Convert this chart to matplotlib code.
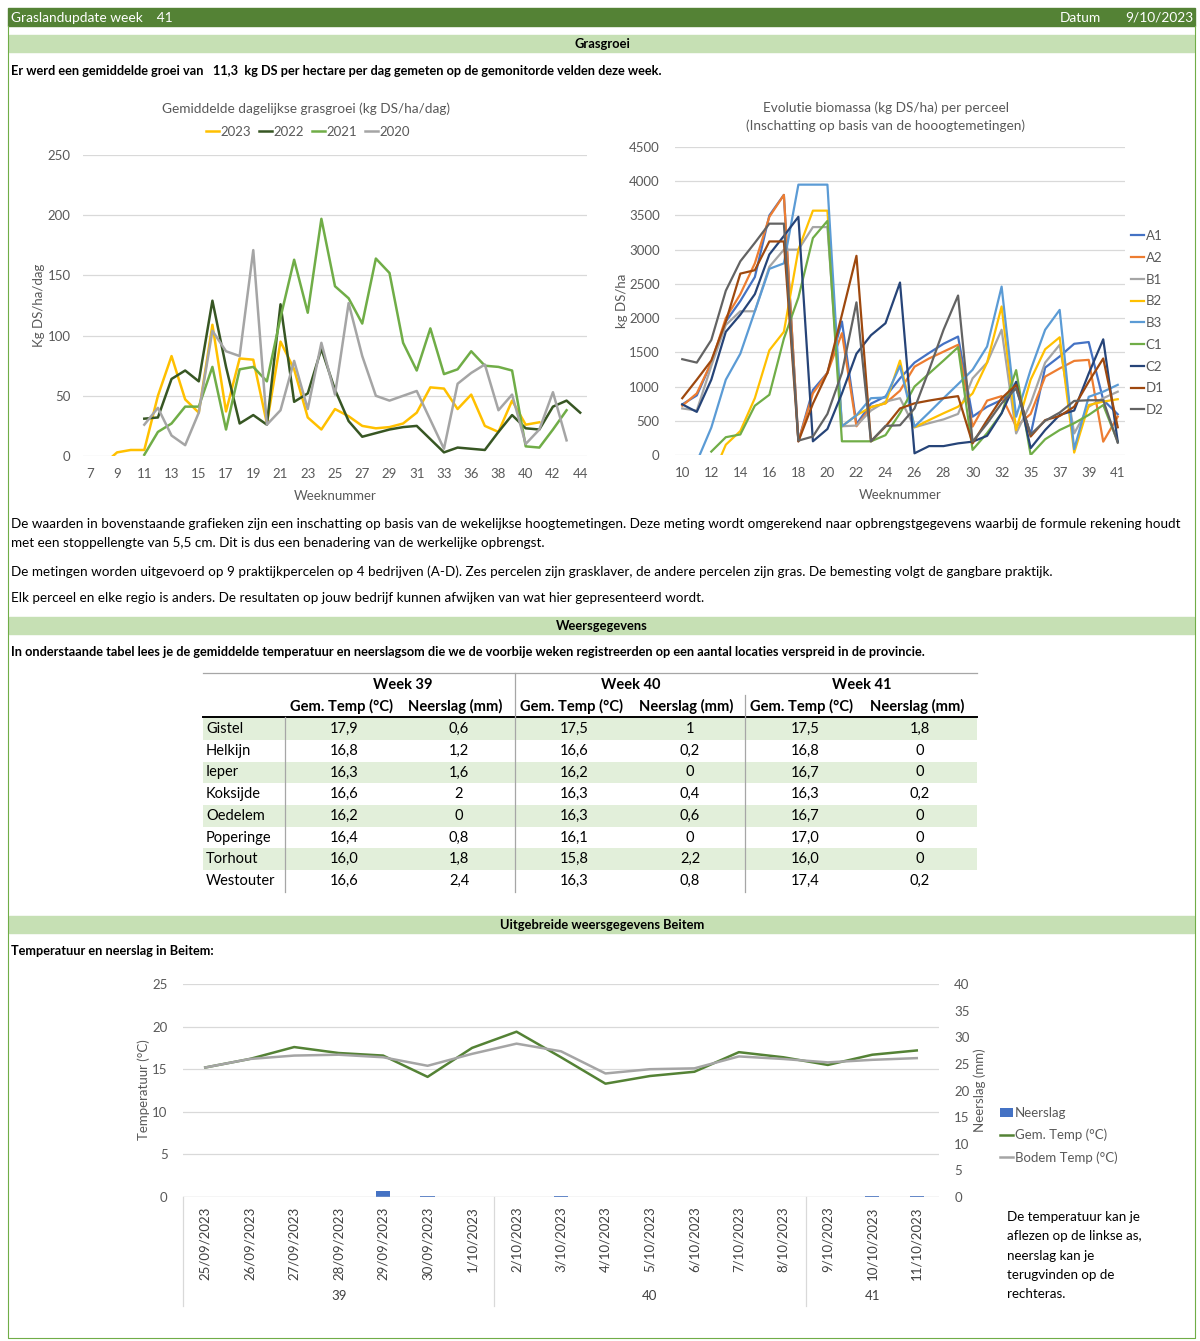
import numpy as np
import matplotlib
matplotlib.use('Agg')
import matplotlib.pyplot as plt
from matplotlib.patches import Rectangle

plt.rcParams['font.family'] = ['Lato', 'DejaVu Sans']

nan = np.nan
W, H = 1200, 1341

# ---- grasgroei per jaar (kg DS/ha/dag), week 34 ontbreekt
weeks_left = [str(w) for w in list(range(7, 34)) + list(range(35, 45))]
groei_2023 = [nan, -7, 3, 5, 5, 50, 83, 47, 36, 109, 37, 81, 80, 27, 95, 72, 32, 22, 39, 33, 25, 23, 24, 27, 36, 57, 56,
              39, 51, 25, 20, 46, 26, 28, nan, nan, nan]
groei_2022 = [nan, nan, nan, nan, 31, 32, 64, 71, 62, 129, 74, 27, 34, 26, 126, 45, 52, 89, 55, 29, 16, 19, 22, 24, 25, 14, 3,
              7, 6, 5, 20, 34, 23, 22, 41, 46, 36]
groei_2021 = [nan, nan, nan, nan, 1, 20, 27, 41, 41, 74, 22, 72, 74, 62, 115, 163, 119, 197, 141, 131, 110, 164, 152, 94, 71, 106, 68,
              72, 87, 75, 74, 71, 8, 7, 22, 38, nan]
groei_2020 = [nan, nan, nan, nan, 26, 40, 17, 9, 36, 104, 87, 83, 171, 26, 38, 79, 39, 94, 51, 127, 83, 50, 46, 50, 54, 30, 6,
              60, 69, 76, 38, 51, 10, 22, 53, 13, nan]

# ---- biomassa per perceel (kg DS/ha)
weeks_right = [str(w) for w in list(range(10, 34)) + list(range(35, 42))]
percelen = ['A1', 'A2', 'B1', 'B2', 'B3', 'C1', 'C2', 'D1', 'D2']
A1 = [740, 870, 1350, 1950, 2250, 2600, 3500, 3800, 200, 950, 1200, 1950, 450, 750, 855, 1120, 1350, 1490, 1625, 1730, 560, 705, 805, 975,
      300, 1277, 1440, 1625, 1650, 805, 595]
A2 = [720, 900, 1350, 2000, 2350, 2800, 3480, 3800, 200, 900, 1200, 1780, 420, 700, 755, 940, 1290, 1410, 1510, 1610, 415, 795, 860, 415,
      600, 1145, 1265, 1375, 1390, 195, 560]
B1 = [680, 650, 1300, 1900, 2100, 2100, 2750, 3000, 3000, 3330, 3330, 420, 430, 650, 780, 830, 405, 465, 520, 600, 1120, 1350, 1830, 315,
      755, 1350, 1610, 315, 705, 830, 925]
B2 = [nan, nan, -350, 150, 350, 830, 1530, 1800, 3000, 3570, 3570, 420, 580, 700, 755, 1380, 405, 510, 610, 705, 900, 1350, 2170, 365,
      1100, 1545, 1720, 35, 730, 780, 815]
B3 = [nan, -100, 400, 1100, 1480, 2100, 2720, 2800, 3950, 3950, 3950, 420, 580, 830, 840, 1300, 415, 620, 830, 1035, 1245, 1585, 2460, 560,
      1245, 1830, 2120, 85, 850, 925, 1025]
C1 = [nan, nan, 50, 260, 300, 720, 880, 1700, 2300, 3170, 3420, 200, 200, 200, 290, 610, 1000, 1190, 1380, 1575, 75, 320, 610, 1240,
      0, 230, 365, 465, 585, 730, 195]
C2 = [740, 630, 1100, 1800, 2050, 2350, 2930, 3200, 3480, 200, 380, 900, 1480, 1750, 1925, 2520, 25, 130, 130, 170, 195, 280, 610, 1070,
      100, 365, 585, 650, 1190, 1690, 195]
D1 = [830, 1100, 1380, 1950, 2650, 2700, 3120, 3120, 200, 750, 1200, 2050, 2910, 200, 415, 680, 755, 795, 830, 860, 170, 510, 830, 1025,
      270, 510, 570, 705, 1070, 1410, 405]
D2 = [1400, 1350, 1680, 2400, 2830, 3100, 3380, 3380, 210, 270, 600, 1200, 2230, 200, 425, 435, 680, 1240, 1830, 2330, 195, 460, 755, 975,
      300, 500, 620, 790, 800, 800, 180]

# ---- weersgegevens tabel
stations = ['Gistel', 'Helkijn', 'Ieper', 'Koksijde', 'Oedelem', 'Poperinge', 'Torhout', 'Westouter']
temp_w39 = [17.9, 16.8, 16.3, 16.6, 16.2, 16.4, 16.0, 16.6]
neer_w39 = [0.6, 1.2, 1.6, 2, 0, 0.8, 1.8, 2.4]
temp_w40 = [17.5, 16.6, 16.2, 16.3, 16.3, 16.1, 15.8, 16.3]
neer_w40 = [1, 0.2, 0, 0.4, 0.6, 0, 2.2, 0.8]
temp_w41 = [17.5, 16.8, 16.7, 16.3, 16.7, 17.0, 16.0, 17.4]
neer_w41 = [1.8, 0, 0, 0.2, 0, 0, 0, 0.2]

# ---- Beitem dagelijks
dagen = ['25/09/2023', '26/09/2023', '27/09/2023', '28/09/2023', '29/09/2023', '30/09/2023', '1/10/2023',
         '2/10/2023', '3/10/2023', '4/10/2023', '5/10/2023', '6/10/2023', '7/10/2023', '8/10/2023',
         '9/10/2023', '10/10/2023', '11/10/2023']
weken = ['39', '40', '41']
dagen_per_week = [7, 7, 3]
gem_temp = [15.2, 16.2, 17.6, 16.9, 16.6, 14.1, 17.5, 19.4, 16.4, 13.3, 14.2, 14.7, 17.0, 16.4, 15.5, 16.7, 17.2]
bodem_temp = [15.2, 16.2, 16.6, 16.7, 16.4, 15.4, 16.8, 18.0, 17.1, 14.5, 15.0, 15.1, 16.5, 16.2, 15.8, 16.1, 16.3]
neerslag = [0, 0, 0, 0, 1.2, 0.1, 0, 0, 0.2, 0, 0, 0, 0, 0, 0, 0.1, 0.2]

GRAY = '#595959'
GRID = '#D9D9D9'


def box(x0, y0, x1, y1):
    # pixel box -> figure fraction
    return [x0 / W, 1 - y1 / H, (x1 - x0) / W, (y1 - y0) / H]


def style_axes(ax):
    for s in ax.spines.values():
        s.set_visible(False)
    ax.grid(axis='y', color=GRID, lw=0.9)
    ax.set_axisbelow(True)
    ax.tick_params(length=0, colors=GRAY, labelsize=9.5)


fig = plt.figure(figsize=(W / 100, H / 100), dpi=100)
page = fig.add_axes([0, 0, 1, 1])
page.set_xlim(0, W)
page.set_ylim(H, 0)
page.axis('off')

# header & banden
page.add_patch(Rectangle((8, 8), 1187, 18, color='#548235'))
page.text(11, 17.5, 'Graslandupdate week    41', color='white', va='center', fontsize=9.9)
page.text(1101, 17.5, 'Datum', color='white', va='center', ha='right', fontsize=9.9)
page.text(1193, 17.5, '9/10/2023', color='white', va='center', ha='right', fontsize=9.9)
page.plot([8, 8, 1195, 1195], [26, 1338, 1338, 26], color='#70AD47', lw=0.8)
for y0, title in [(35, 'Grasgroei'), (617, 'Weersgegevens'), (916, 'Uitgebreide weersgegevens Beitem')]:
    page.add_patch(Rectangle((9, y0), 1185, 17, color='#C6E0B4'))
    page.text(602, y0 + 9, title, ha='center', va='center', fontsize=9.3, fontweight='bold')

page.text(11, 71, 'Er werd een gemiddelde groei van   11,3  kg DS per hectare per dag gemeten op de gemonitorde velden deze week.',
          va='center', fontsize=9.2, fontweight='bold')
page.text(11, 652, 'In onderstaande tabel lees je de gemiddelde temperatuur en neerslagsom die we de voorbije weken registreerden '
          'op een aantal locaties verspreid in de provincie.', va='center', fontsize=9.2, fontweight='bold')
page.text(11, 951, 'Temperatuur en neerslag in Beitem:', va='center', fontsize=9.2, fontweight='bold')

para = [(524, 'De waarden in bovenstaande grafieken zijn een inschatting op basis van de wekelijkse hoogtemetingen. Deze meting wordt '
         'omgerekend naar opbrengstgegevens waarbij de formule rekening houdt'),
        (543, 'met een stoppellengte van 5,5 cm. Dit is dus een benadering van de werkelijke opbrengst.'),
        (572, 'De metingen worden uitgevoerd op 9 praktijkpercelen op 4 bedrijven (A-D). Zes percelen zijn grasklaver, de andere '
         'percelen zijn gras. De bemesting volgt de gangbare praktijk.'),
        (598, 'Elk perceel en elke regio is anders. De resultaten op jouw bedrijf kunnen afwijken van wat hier gepresenteerd wordt.')]
for y, t in para:
    page.text(11, y, t, va='center', fontsize=9.75)

# ---- grafiek 1: gemiddelde dagelijkse grasgroei
ax1 = fig.add_axes(box(83, 155, 587, 456))
xl = np.arange(len(weeks_left))
for vals, col, lab in [(groei_2023, '#FFC000', '2023'), (groei_2022, '#375623', '2022'),
                       (groei_2021, '#70AD47', '2021'), (groei_2020, '#A5A5A5', '2020')]:
    ax1.plot(xl, vals, color=col, lw=1.8, label=lab)
ax1.set_xlim(-0.5, len(weeks_left) - 0.5)
ax1.set_ylim(0, 250)
ax1.set_yticks(range(0, 251, 50))
ax1.set_xticks(xl[::2])
ax1.set_xticklabels(weeks_left[::2])
style_axes(ax1)
ax1.tick_params(axis='y', pad=9)
ax1.tick_params(axis='x', pad=9)
ax1.set_xlabel('Weeknummer', color=GRAY, fontsize=9.5, labelpad=7)
ax1.set_ylabel('Kg DS/ha/dag', color=GRAY, fontsize=9.5, labelpad=2)
page.text(306, 109, 'Gemiddelde dagelijkse grasgroei (kg DS/ha/dag)', ha='center', va='center', color=GRAY, fontsize=9.8)
ax1.legend(ncol=4, loc='center', bbox_to_anchor=(308 / W, 1 - 132 / H), bbox_transform=fig.transFigure,
           frameon=False, handlelength=1.0, handletextpad=0.1, columnspacing=0.6, fontsize=9.5, labelcolor=GRAY)

# ---- grafiek 2: biomassa per perceel
ax2 = fig.add_axes(box(675, 147, 1125, 455))
xr = np.arange(len(weeks_right))
kleuren = ['#4472C4', '#ED7D31', '#A5A5A5', '#FFC000', '#5B9BD5', '#70AD47', '#264478', '#9E480E', '#636363']
for vals, col, lab in zip([A1, A2, B1, B2, B3, C1, C2, D1, D2], kleuren, percelen):
    ax2.plot(xr, vals, color=col, lw=1.6, label=lab)
ax2.set_xlim(-0.5, len(weeks_right) - 0.5)
ax2.set_ylim(0, 4500)
ax2.set_yticks(range(0, 4501, 500))
ax2.set_xticks(xr[::2])
ax2.set_xticklabels(weeks_right[::2])
style_axes(ax2)
ax2.tick_params(axis='y', pad=11)
ax2.tick_params(axis='x', pad=9)
ax2.set_xlabel('Weeknummer', color=GRAY, fontsize=9.5, labelpad=7)
ax2.set_ylabel('kg DS/ha', color=GRAY, fontsize=9.5, labelpad=1)
page.text(886, 108, 'Evolutie biomassa (kg DS/ha) per perceel', ha='center', va='center', color=GRAY, fontsize=9.8)
page.text(886, 126, '(Inschatting op basis van de hooogtemetingen)', ha='center', va='center', color=GRAY, fontsize=9.8)
ax2.legend(loc='upper left', bbox_to_anchor=(1131 / W, 1 - 230 / H), bbox_transform=fig.transFigure,
           frameon=False, handlelength=1.0, handletextpad=0.1, labelspacing=0.74, fontsize=9.5, labelcolor=GRAY,
           borderaxespad=0, borderpad=0)

# ---- tabel weersgegevens
row_y = [729 + 21.7 * i for i in range(len(stations))]
for i, y in enumerate(row_y):
    if i % 2 == 0:
        page.add_patch(Rectangle((203, y - 10.8), 774, 21.6, color='#E2EFDA', lw=0))
page.plot([203, 977], [673, 673], color='#A6A6A6', lw=0.9)
page.plot([203, 977], [717, 717], color='black', lw=1.4)
page.plot([285, 285], [717, 892], color='#A6A6A6', lw=0.9)
page.plot([515, 515], [673, 892], color='#A6A6A6', lw=0.9)
page.plot([745, 745], [695, 892], color='#A6A6A6', lw=0.9)
for xc, wk in zip([403, 631, 862], ['Week 39', 'Week 40', 'Week 41']):
    page.text(xc, 685, wk, ha='center', va='center', fontsize=10.5, fontweight='bold')
for xc, lab in zip([341, 455, 571, 686, 802, 917], ['Gem. Temp (°C)', 'Neerslag (mm)'] * 3):
    page.text(xc, 706, lab, ha='center', va='center', fontsize=10.6, fontweight='bold')
kolommen = [temp_w39, neer_w39, temp_w40, neer_w40, temp_w41, neer_w41]
for i, y in enumerate(row_y):
    page.text(206, y, stations[i], va='center', fontsize=10.5)
    for j, (xc, col) in enumerate(zip([344, 459, 574, 690, 805, 920], kolommen)):
        if j % 2 == 0:
            s = f'{col[i]:.1f}'
        else:
            s = f'{col[i]:g}'
        page.text(xc, y, s.replace('.', ','), ha='center', va='center', fontsize=10.5)

# ---- grafiek 3: Beitem
ax3 = fig.add_axes(box(183, 984, 939, 1197))
ax3b = ax3.twinx()
xd = np.arange(len(dagen))
ax3b.bar(xd, neerslag, width=0.32, color='#4472C4', label='Neerslag')
ax3.plot(xd, gem_temp, color='#548235', lw=1.8, label='Gem. Temp (°C)')
ax3.plot(xd, bodem_temp, color='#A5A5A5', lw=1.8, label='Bodem Temp (°C)')
ax3.set_zorder(ax3b.get_zorder() + 1)
ax3.patch.set_visible(False)
ax3.set_xlim(-0.5, len(dagen) - 0.5)
ax3.set_ylim(0, 25)
ax3b.set_ylim(0, 40)
ax3.set_yticks(range(0, 26, 5))
ax3b.set_yticks(range(0, 41, 5))
ax3.set_xticks(xd)
ax3.set_xticklabels(dagen, rotation=90, color='#404040')
style_axes(ax3)
for s in ax3b.spines.values():
    s.set_visible(False)
ax3b.tick_params(length=0, colors=GRAY, labelsize=9.5, pad=11)
ax3.tick_params(axis='y', pad=11)
ax3.tick_params(axis='x', pad=7, labelsize=9.5, labelcolor='#404040')
ax3.axhline(0, color=GRID, lw=0.9)
page.text(144, 1090, 'Temperatuur (°C)', rotation=90, ha='center', va='center', color=GRAY, fontsize=9.5)
page.text(980, 1090, 'Neerslag (mm)', rotation=90, ha='center', va='center', color=GRAY, fontsize=9.5)

# multi-level categorie-as (weeknummers)
trans = ax3.get_xaxis_transform()
grens = np.concatenate([[0], np.cumsum(dagen_per_week)]) - 0.5
for b in grens[:-1]:
    ax3.plot([b, b], [0, -0.51], transform=trans, color=GRID, lw=0.9, clip_on=False)
for k, wk in enumerate(weken):
    ax3.text((grens[k] + grens[k + 1]) / 2, -0.465, wk, transform=trans, ha='center', va='center',
             color='#404040', fontsize=9.5)

h1, l1 = ax3b.get_legend_handles_labels()
h2, l2 = ax3.get_legend_handles_labels()
ax3.legend(h1 + h2, l1 + l2, loc='upper left', bbox_to_anchor=(1000 / W, 1 - 1107 / H), bbox_transform=fig.transFigure,
           frameon=False, handlelength=1.0, handletextpad=0.1, labelspacing=0.74, fontsize=9.5, labelcolor=GRAY,
           borderaxespad=0, borderpad=0)

uitleg = ['De temperatuur kan je', 'aflezen op de linkse as,', 'neerslag kan je', 'terugvinden op de', 'rechteras.']
for i, t in enumerate(uitleg):
    page.text(1007, 1217 + 19.3 * i, t, va='center', fontsize=9.6)

fig.savefig('out.png', dpi=100)
